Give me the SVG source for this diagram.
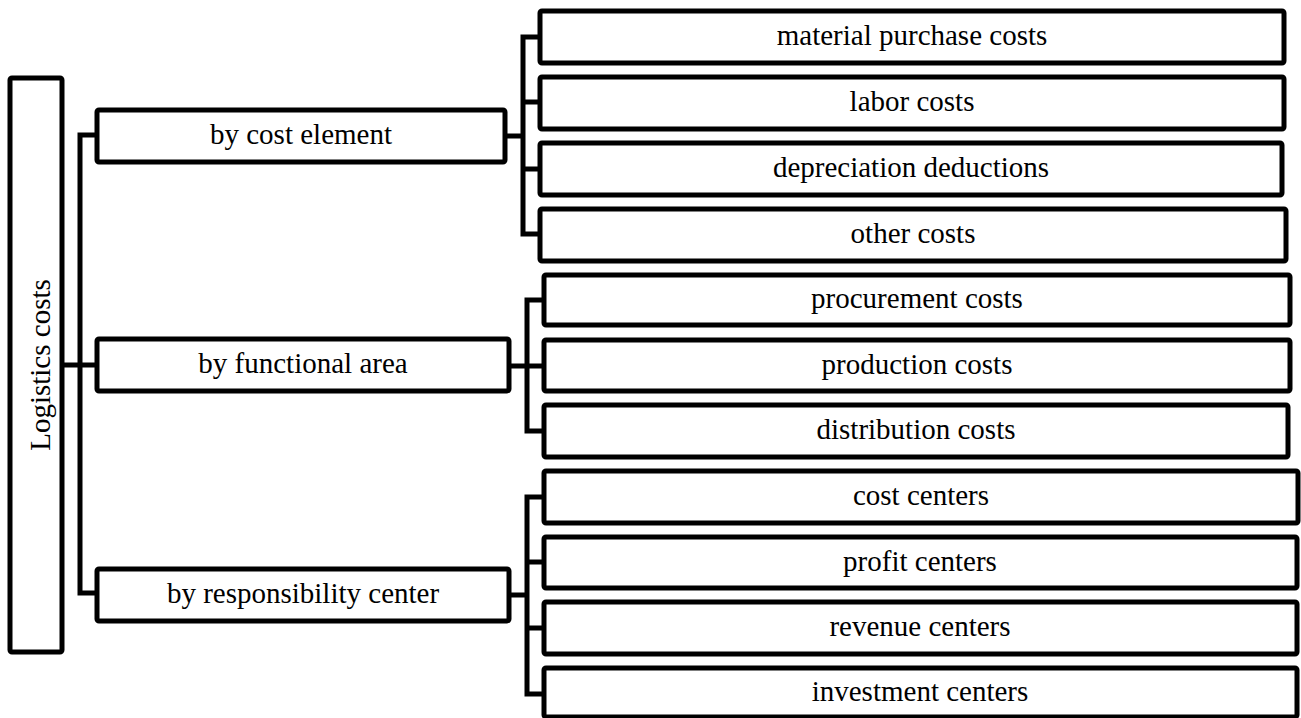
<svg xmlns="http://www.w3.org/2000/svg" width="1301" height="718" viewBox="0 0 1301 718">
<style>
.box{fill:#fff;stroke:#000;stroke-width:5;stroke-linejoin:round}
.lbl{font-family:"Liberation Serif","Times New Roman",serif;font-size:29px;fill:#000;text-anchor:middle}
.con{fill:none;stroke:#000;stroke-width:5;stroke-linejoin:round;stroke-linecap:square}
</style>
<rect width="1301" height="718" fill="#fff"/>
<g id="connectors">
<path class="con" d="M80,135 V593 M80,135 H97 M62,365 H97 M80,593 H97"/>
<path class="con" d="M505,136 H523 M523,37 V234 M523,37 H540 M523,102 H540 M523,169 H540 M523,234 H540"/>
<path class="con" d="M509,366 H544 M527,300 V431 M527,300 H544 M527,431 H544"/>
<path class="con" d="M509,595 H527 M527,497 V694 M527,497 H544 M527,562 H544 M527,628 H544 M527,694 H544"/>
</g>
<g id="logistics"><rect class="box" x="10" y="78" width="52" height="574" rx="2"/><text class="lbl" transform="translate(50,365) rotate(-90)">Logistics costs</text></g>
<g id="by-cost-element"><rect class="box" x="97" y="110" width="408" height="52" rx="2"/><text class="lbl" x="301" y="144">by cost element</text></g>
<g id="by-functional-area"><rect class="box" x="97" y="339" width="412" height="52" rx="2"/><text class="lbl" x="303" y="373">by functional area</text></g>
<g id="by-responsibility-center"><rect class="box" x="97" y="569" width="412" height="52" rx="2"/><text class="lbl" x="303" y="603">by responsibility center</text></g>
<g id="material"><rect class="box" x="540" y="11" width="744" height="52" rx="2"/><text class="lbl" x="912" y="45">material purchase costs</text></g>
<g id="labor"><rect class="box" x="540" y="77" width="744" height="52" rx="2"/><text class="lbl" x="912" y="111">labor costs</text></g>
<g id="depreciation"><rect class="box" x="540" y="143" width="742" height="52" rx="2"/><text class="lbl" x="911" y="177">depreciation deductions</text></g>
<g id="other"><rect class="box" x="540" y="209" width="746" height="52" rx="2"/><text class="lbl" x="913" y="243">other costs</text></g>
<g id="procurement"><rect class="box" x="544" y="275" width="746" height="50" rx="2"/><text class="lbl" x="917" y="308">procurement costs</text></g>
<g id="production"><rect class="box" x="544" y="340" width="746" height="51" rx="2"/><text class="lbl" x="917" y="374">production costs</text></g>
<g id="distribution"><rect class="box" x="544" y="405" width="744" height="52" rx="2"/><text class="lbl" x="916" y="439">distribution costs</text></g>
<g id="cost-centers"><rect class="box" x="544" y="471" width="754" height="52" rx="2"/><text class="lbl" x="921" y="505">cost centers</text></g>
<g id="profit-centers"><rect class="box" x="544" y="537" width="753" height="51" rx="2"/><text class="lbl" x="920" y="571">profit centers</text></g>
<g id="revenue-centers"><rect class="box" x="544" y="602" width="753" height="52" rx="2"/><text class="lbl" x="920" y="636">revenue centers</text></g>
<g id="investment-centers"><rect class="box" x="544" y="668" width="753" height="49" rx="2"/><text class="lbl" x="920" y="701">investment centers</text></g>
</svg>
